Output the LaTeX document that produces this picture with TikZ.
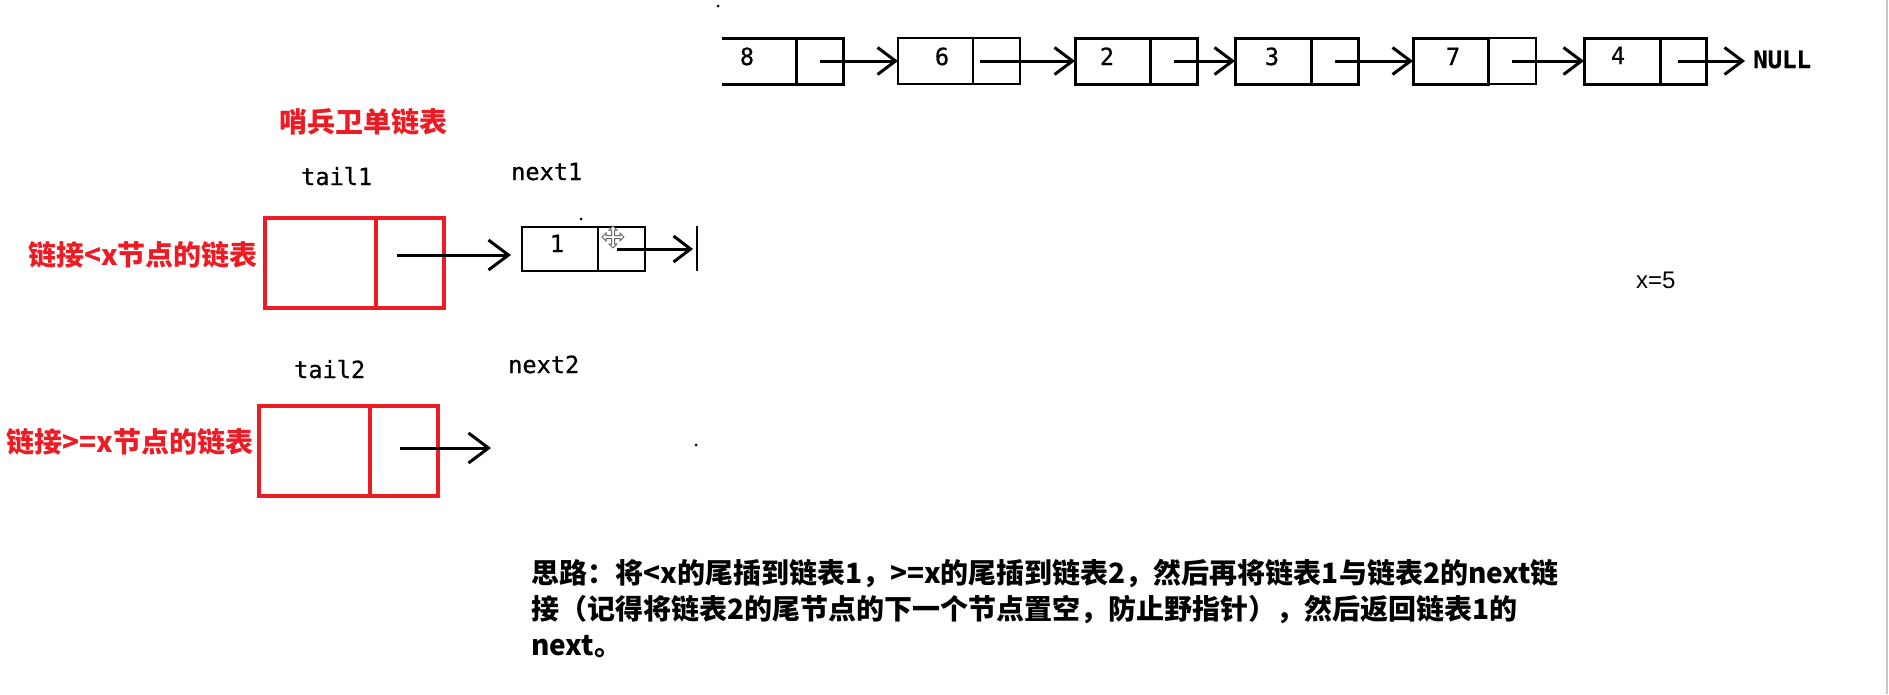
\documentclass[tikz,border=0pt]{standalone}
\usepackage{fontspec}
\newfontfamily\cjk{Noto Sans CJK SC}
\newfontfamily\monof{DejaVu Sans Mono}[FakeBold=0.7]
\newfontfamily\arialf{Liberation Sans}
\usetikzlibrary{arrows.meta}
\definecolor{pred}{RGB}{237,28,36}
\begin{document}
\begin{tikzpicture}[x=1pt,y=-1pt,
  cellbox/.style={draw, line width=3pt, minimum height=46pt, inner sep=0pt, outer sep=0pt},
  openbox/.style={minimum height=46pt, inner sep=0pt, outer sep=0pt},
  redbox/.style={draw=pred, line width=3.5pt, minimum height=90pt, inner sep=0pt, outer sep=0pt},
  smallbox/.style={draw, line width=2pt, minimum height=44pt, inner sep=0pt, outer sep=0pt},
  arr/.style={line width=3pt, -{Straight Barb[length=18pt,width=27pt,line width=3pt]}},
  monotxt/.style={font=\monof\fontsize{23.6}{28}\selectfont, inner sep=0pt},
  redtxt/.style={text=pred, font=\cjk\bfseries\fontsize{28}{34}\selectfont, inner sep=0pt},
  bodytxt/.style={font=\cjk\bfseries\fontsize{28}{34}\selectfont, inner sep=0pt},
  dotmark/.style={fill=black, circle, inner sep=0pt, minimum size=3pt}
]
\useasboundingbox (0,0) rectangle (1889,694);
% right edge line
\draw[line width=2pt, black!22] (1887,0) -- (1887,694);

% ---------- top list ----------
\node[openbox, minimum width=74pt] (d8) at (759,61) {};
\node[cellbox, minimum width=47pt] (p8) at (819.5,61) {};
\draw[line width=3pt] (d8.north west) -- (d8.north east);
\draw[line width=3pt] (d8.south west) -- (d8.south east);

\node[cellbox, line width=2pt, minimum width=75pt] (d6) at (935.5,61) {};
\node[cellbox, line width=2pt, minimum width=47pt] (p6) at (996.5,61) {};
\node[cellbox, minimum width=75pt] (d2) at (1112.5,61) {};
\node[cellbox, minimum width=47pt] (p2) at (1173.5,61) {};
\node[cellbox, minimum width=76pt] (d3) at (1273,61) {};
\node[cellbox, minimum width=47pt] (p3) at (1334.5,61) {};
\node[cellbox, minimum width=75pt] (d7) at (1450.5,61) {};
\node[cellbox, line width=2pt, minimum width=48pt] (p7) at (1512,61) {};
\node[cellbox, minimum width=76pt] (d4) at (1622,61) {};
\node[cellbox, minimum width=46pt] (p4) at (1683,61) {};

\node[monotxt, anchor=base] (n8) at (747,65) {8};
\node[monotxt, anchor=base] (n6) at (942,65) {6};
\node[monotxt, anchor=base] (n2) at (1107,65) {2};
\node[monotxt, anchor=base] (n3) at (1272,65) {3};
\node[monotxt, anchor=base] (n7) at (1453,65) {7};
\node[monotxt, anchor=base] (n4) at (1618,64) {4};
\node[monotxt, font=\monof\bfseries\fontsize{24}{28}\selectfont, anchor=base west, inner xsep=8pt] (null) at (1745,68) {NULL};

\draw[arr] (p8.center) -- (d6.west);
\draw[arr] ([xshift=-16.5pt]p6.center) -- (d2.west);
\draw[arr] (p2.center) -- (d3.west);
\draw[arr] (p3.center) -- (d7.west);
\draw[arr] (p7.center) -- (d4.west);
\draw[arr] ([xshift=-5pt]p4.center) -- (p4.center -| null.west);

\node[dotmark] (dtop) at (718,6) {};

% ---------- sentinel lists ----------
\node[redtxt, anchor=center] (title) at (363,122) {哨兵卫单链表};

\node[monotxt, anchor=base west] (tail1) at (301,185) {tail1};
\node[monotxt, anchor=base west] (next1) at (511,180) {next1};
\node[monotxt, anchor=base west] (tail2) at (294,378) {tail2};
\node[monotxt, anchor=base west] (next2) at (508,373) {next2};

\node[redtxt, anchor=west] (lab1) at (28,255) {链接<x节点的链表};
\node[redtxt, anchor=west] (lab2) at (6,442) {链接>=x节点的链表};

\node[redbox, minimum width=111pt] (r1d) at (320.5,263) {};
\node[redbox, minimum width=68pt] (r1p) at (410,263) {};
\node[redbox, minimum width=111pt] (r2d) at (314.5,451) {};
\node[redbox, minimum width=68pt] (r2p) at (404,451) {};

\coordinate (a1s) at (397,255);
\coordinate (a1e) at (511,255);
\draw[arr, -{Straight Barb[length=20pt,width=30pt,line width=3pt]}] (a1s) -- (a1e);
\coordinate (a2s) at (400,448);
\coordinate (a2e) at (491,448);
\draw[arr, -{Straight Barb[length=20pt,width=30pt,line width=3pt]}] (a2s) -- (a2e);

% node 1
\node[smallbox, minimum width=76pt] (b1d) at (560,249) {};
\node[smallbox, minimum width=47pt] (b1p) at (621.5,249) {};
\node[monotxt, anchor=base] (n1) at (557,252) {1};
\coordinate (e1) at (693,249);
\draw[arr, -{Straight Barb[length=17pt,width=26pt,line width=3pt]}] ([xshift=-4.5pt]b1p.center) -- (e1);
\draw[line width=2.5pt] (697,226) -- (697,271);

\node[dotmark] (d1) at (581,219) {};
\node[dotmark] (d2dot) at (696,445) {};

% move cursor icon
\begin{scope}[shift={(613,237)}]
\draw[fill=white, draw=black!60, line width=1pt, line join=miter]
 (0,-11) -- (4,-7) -- (1.5,-7) -- (1.5,-1.5) -- (7,-1.5) -- (7,-4) -- (11,0) -- (7,4) -- (7,1.5)
 -- (1.5,1.5) -- (1.5,7) -- (4,7) -- (0,11) -- (-4,7) -- (-1.5,7) -- (-1.5,1.5) -- (-7,1.5)
 -- (-7,4) -- (-11,0) -- (-7,-4) -- (-7,-1.5) -- (-1.5,-1.5) -- (-1.5,-7) -- (-4,-7) -- cycle;
\end{scope}

% x=5
\node[font=\arialf\fontsize{24}{28}\selectfont, anchor=base west, inner sep=0pt] (xval) at (1636,288) {x=5};

% explanation
\node[bodytxt, anchor=base west] (l1) at (531,583) {思路：将<x的尾插到链表1，>=x的尾插到链表2，然后再将链表1与链表2的next链};
\node[bodytxt, anchor=base west] (l2) at (531,619) {接（记得将链表2的尾节点的下一个节点置空，防止野指针），然后返回链表1的};
\node[bodytxt, anchor=base west] (l3) at (531,655) {next。};
\end{tikzpicture}
\end{document}
